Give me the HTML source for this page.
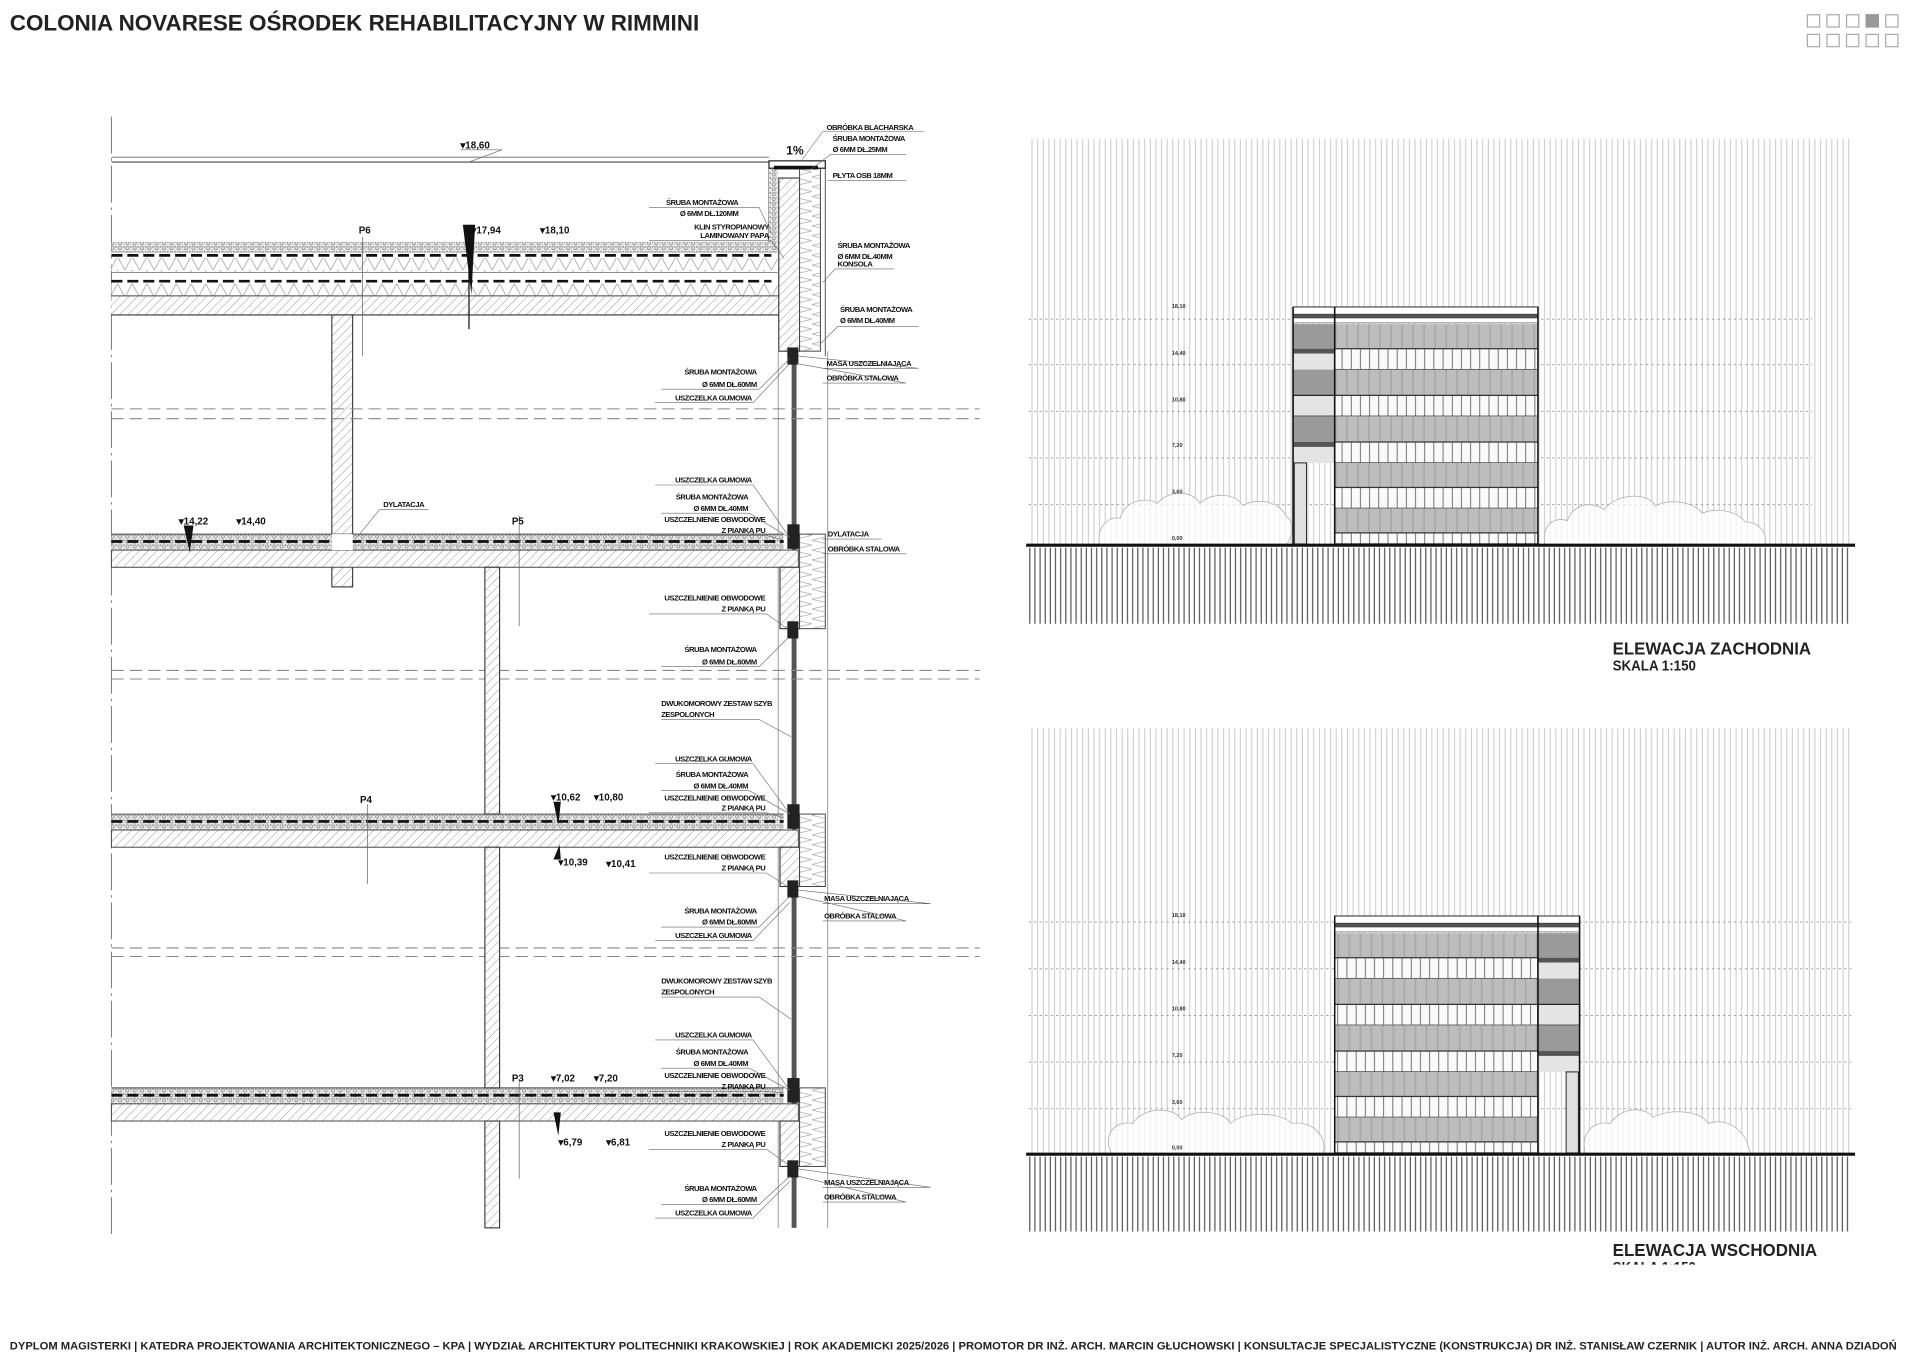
<!DOCTYPE html>
<html><head><meta charset="utf-8"><style>
html,body{margin:0;padding:0;background:#fff;}
svg{display:block;}
text{font-family:"Liberation Sans",sans-serif;}
.t{font-size:6.2px;font-weight:bold;fill:#111;letter-spacing:-0.35px;}
.lv{font-size:8px;font-weight:bold;fill:#111;}
.el{font-size:4.5px;font-weight:bold;fill:#333;}
</style></head><body>
<svg width="1920" height="1358" viewBox="0 0 1568 1106" preserveAspectRatio="none" xmlns="http://www.w3.org/2000/svg">
<defs>
<pattern id="hatch" width="5" height="5" patternUnits="userSpaceOnUse" patternTransform="rotate(45)">
<rect width="5" height="5" fill="#fff"/><line x1="0" y1="0" x2="0" y2="5" stroke="#888" stroke-width="0.7"/></pattern>
<pattern id="zig" width="12" height="11" patternUnits="userSpaceOnUse">
<rect width="12" height="11" fill="#fff"/><polyline points="0,0 6,11 12,0" fill="none" stroke="#999" stroke-width="0.6"/></pattern>
<pattern id="grav" width="6" height="4" patternUnits="userSpaceOnUse">
<rect width="6" height="4" fill="#e6e6e6"/><circle cx="2" cy="2" r="1.3" fill="none" stroke="#777" stroke-width="0.5"/><circle cx="5" cy="1" r="0.8" fill="#999"/></pattern>
<pattern id="ins" width="17" height="8" patternUnits="userSpaceOnUse">
<rect width="17" height="8" fill="#fff"/><polyline points="0,0 17,4 0,8" fill="none" stroke="#aaa" stroke-width="0.6"/></pattern>
<pattern id="sky" width="4.6" height="10" patternUnits="userSpaceOnUse">
<rect width="4.6" height="10" fill="#fff"/><line x1="1" y1="0" x2="1" y2="10" stroke="#c4c4c4" stroke-width="0.75"/></pattern>
<pattern id="gnd" width="4.2" height="10" patternUnits="userSpaceOnUse">
<rect width="4.2" height="10" fill="#fff"/><line x1="1" y1="0" x2="1" y2="10" stroke="#444" stroke-width="0.9"/></pattern>
<pattern id="mul" width="7.5" height="10" patternUnits="userSpaceOnUse">
<rect width="7.5" height="10" fill="#fafafa"/><line x1="1" y1="0" x2="1" y2="10" stroke="#444" stroke-width="0.6"/></pattern>
<pattern id="glz" width="9" height="10" patternUnits="userSpaceOnUse">
<rect width="9" height="10" fill="#bdbdbd"/><line x1="2" y1="0" x2="2" y2="10" stroke="#aaa" stroke-width="1.5"/></pattern>

<g id="floor">
 <rect x="91" y="0" width="549" height="13" fill="url(#grav)"/>
 <line x1="91" y1="6" x2="640" y2="6" stroke="#111" stroke-width="2.2" stroke-dasharray="9,4"/>
 <line x1="91" y1="0" x2="640" y2="0" stroke="#444" stroke-width="0.8"/>
 <rect x="91" y="13" width="561" height="14" fill="url(#hatch)" stroke="#444" stroke-width="0.8"/>
 <rect x="643" y="-8" width="10" height="20" fill="#222"/>
</g>
<g id="bld">
 <rect x="1056" y="250" width="200" height="6" fill="#fff" stroke="#222" stroke-width="0.8"/>
 <rect x="1056" y="256" width="200" height="3" fill="#555"/>
 <rect x="1056" y="259" width="200" height="4" fill="#fff" stroke="#444" stroke-width="0.5"/>
 <rect x="1090" y="264" width="166" height="20" fill="url(#glz)"/>
 <rect x="1090" y="284" width="166" height="17" fill="url(#mul)" stroke="#333" stroke-width="1"/>
 <rect x="1090" y="301" width="166" height="21" fill="url(#glz)"/>
 <rect x="1090" y="322" width="166" height="17" fill="url(#mul)" stroke="#333" stroke-width="1"/>
 <rect x="1090" y="339" width="166" height="21" fill="url(#glz)"/>
 <rect x="1090" y="360" width="166" height="17" fill="url(#mul)" stroke="#333" stroke-width="1"/>
 <rect x="1090" y="377" width="166" height="20" fill="url(#glz)"/>
 <rect x="1090" y="397" width="166" height="17" fill="url(#mul)" stroke="#333" stroke-width="1"/>
 <rect x="1090" y="414" width="166" height="20" fill="url(#glz)"/>
 <rect x="1090" y="434" width="166" height="9" fill="url(#mul)" stroke="#333" stroke-width="1"/>
 <rect x="1056" y="264" width="34" height="20" fill="#9a9a9a"/>
 <rect x="1056" y="284" width="34" height="4" fill="#555"/>
 <rect x="1056" y="288" width="34" height="13" fill="#e4e4e4"/>
 <rect x="1056" y="301" width="34" height="21" fill="#9a9a9a"/>
 <rect x="1056" y="322" width="34" height="17" fill="#e4e4e4" stroke="#222" stroke-width="1"/>
 <rect x="1056" y="339" width="34" height="21" fill="#9a9a9a"/>
 <rect x="1056" y="360" width="34" height="4" fill="#555"/>
 <rect x="1056" y="364" width="34" height="13" fill="#e4e4e4"/>
 <rect x="1057" y="377" width="10" height="66" fill="#e0e0e0" stroke="#222" stroke-width="0.8"/>
 <line x1="1056" y1="250" x2="1056" y2="443" stroke="#111" stroke-width="1.3"/>
 <line x1="1090" y1="250" x2="1090" y2="443" stroke="#111" stroke-width="1.3"/>
 <line x1="1256" y1="250" x2="1256" y2="443" stroke="#111" stroke-width="1.2"/>
</g>
</defs>
<rect width="1568" height="1106" fill="#fff"/>

<text x="8" y="25" font-size="18" font-weight="bold" textLength="563" lengthAdjust="spacingAndGlyphs" fill="#222">COLONIA NOVARESE OŚRODEK REHABILITACYJNY W RIMMINI</text>
<g fill="none" stroke="#aaa" stroke-width="1">
<rect x="1476" y="12" width="10" height="10"/><rect x="1492" y="12" width="10" height="10"/><rect x="1508" y="12" width="10" height="10"/><rect x="1524" y="12" width="10" height="10" fill="#999" stroke="#999"/><rect x="1540" y="12" width="10" height="10"/>
<rect x="1476" y="28" width="10" height="10"/><rect x="1492" y="28" width="10" height="10"/><rect x="1508" y="28" width="10" height="10"/><rect x="1524" y="28" width="10" height="10"/><rect x="1540" y="28" width="10" height="10"/>
</g>

<line x1="91" y1="95" x2="91" y2="1005" stroke="#777" stroke-width="0.8" stroke-dasharray="30,4,2,4"/>
<line x1="91" y1="128" x2="628" y2="128" stroke="#666" stroke-width="0.7"/>
<line x1="91" y1="132" x2="628" y2="132" stroke="#444" stroke-width="0.9"/>
<line x1="628" y1="132" x2="628" y2="197" stroke="#444" stroke-width="0.8"/>
<rect x="628" y="137" width="7" height="60" fill="url(#grav)"/>
<rect x="91" y="197" width="544" height="9" fill="url(#grav)"/>
<line x1="91" y1="208" x2="630" y2="208" stroke="#111" stroke-width="2.2" stroke-dasharray="9,4"/>
<rect x="91" y="210" width="544" height="11" fill="url(#zig)"/>
<line x1="91" y1="222" x2="635" y2="222" stroke="#666" stroke-width="0.6"/>
<line x1="91" y1="229" x2="630" y2="229" stroke="#111" stroke-width="2.2" stroke-dasharray="9,4"/>
<rect x="91" y="231" width="544" height="10" fill="url(#zig)"/>
<line x1="91" y1="241" x2="636" y2="241" stroke="#444" stroke-width="0.8"/>
<rect x="91" y="241.5" width="561" height="15" fill="url(#hatch)"/>
<line x1="91" y1="256.5" x2="636" y2="256.5" stroke="#333" stroke-width="1"/>
<rect x="636" y="145" width="17" height="141" fill="url(#hatch)" stroke="#333" stroke-width="0.9"/>
<rect x="653" y="137" width="17" height="149" fill="url(#ins)" stroke="#444" stroke-width="0.8"/>
<line x1="674" y1="137" x2="674" y2="290" stroke="#555" stroke-width="0.8"/>
<rect x="628" y="131" width="46" height="6" fill="#fff" stroke="#222" stroke-width="1"/>
<rect x="632" y="135" width="36" height="3" fill="#111"/>
<polygon points="378,183 388,183 385,240" fill="#111"/>
<line x1="383" y1="183" x2="383" y2="268" stroke="#111" stroke-width="1"/>
<rect x="271" y="256.5" width="17" height="191" fill="url(#hatch)" stroke="#333" stroke-width="0.9"/>
<rect x="271" y="461" width="17" height="17" fill="url(#hatch)" stroke="#333" stroke-width="0.9"/>
<line x1="296" y1="193" x2="296" y2="290" stroke="#666" stroke-width="0.6"/>
<rect x="646.5" y="286" width="4" height="714" fill="#555"/>
<line x1="635.5" y1="286" x2="635.5" y2="1000" stroke="#777" stroke-width="0.6"/>
<line x1="676" y1="286" x2="676" y2="1000" stroke="#777" stroke-width="0.6"/>
<rect x="643" y="283" width="9" height="14" fill="#222"/>
<g stroke="#888" stroke-width="0.9" stroke-dasharray="10,5">
<line x1="91" y1="333" x2="800" y2="333"/><line x1="91" y1="341" x2="800" y2="341"/>
<line x1="91" y1="546" x2="800" y2="546"/><line x1="91" y1="553" x2="800" y2="553"/>
<line x1="91" y1="772" x2="800" y2="772"/><line x1="91" y1="779" x2="800" y2="779"/>
</g>
<use href="#floor" transform="translate(0,435)"/>
<use href="#floor" transform="translate(0,663)"/>
<use href="#floor" transform="translate(0,886)"/>
<rect x="271" y="435" width="17" height="13" fill="#fff"/>
<rect x="637" y="462" width="16" height="50" fill="url(#hatch)" stroke="#333" stroke-width="0.9"/>
<rect x="653" y="435" width="21" height="77" fill="url(#ins)" stroke="#444" stroke-width="0.8"/>
<rect x="637" y="690" width="16" height="32" fill="url(#hatch)" stroke="#333" stroke-width="0.9"/>
<rect x="653" y="663" width="21" height="59" fill="url(#ins)" stroke="#444" stroke-width="0.8"/>
<rect x="637" y="913" width="16" height="37" fill="url(#hatch)" stroke="#333" stroke-width="0.9"/>
<rect x="653" y="886" width="21" height="64" fill="url(#ins)" stroke="#444" stroke-width="0.8"/>
<g fill="#222"><rect x="643" y="506" width="9" height="14"/><rect x="643" y="717" width="9" height="14"/><rect x="643" y="945" width="9" height="14"/></g>
<rect x="396" y="462" width="12" height="201" fill="url(#hatch)" stroke="#333" stroke-width="0.9"/>
<rect x="396" y="690" width="12" height="196" fill="url(#hatch)" stroke="#333" stroke-width="0.9"/>
<rect x="396" y="913" width="12" height="87" fill="url(#hatch)" stroke="#333" stroke-width="0.9"/>
<line x1="424" y1="420" x2="424" y2="510" stroke="#666" stroke-width="0.6"/>
<line x1="300" y1="655" x2="300" y2="720" stroke="#666" stroke-width="0.6"/>
<line x1="424" y1="880" x2="424" y2="960" stroke="#666" stroke-width="0.6"/>
<g fill="#111">
<polygon points="150,428 158,428 155,450"/><polygon points="452,653 458,653 456,672"/><polygon points="452,906 458,906 456,925"/>
<polygon points="452,700 458,700 457,688"/>
</g>
<g class="lv">
<text x="376" y="121">▾18,60</text><text x="293" y="190">P6</text><text x="385" y="190">▾17,94</text><text x="441" y="190">▾18,10</text>
<text x="642" y="126" font-size="10">1%</text>
<text x="146" y="427">▾14,22</text><text x="193" y="427">▾14,40</text><text x="418" y="427">P5</text>
<text x="294" y="654">P4</text><text x="450" y="652">▾10,62</text><text x="485" y="652">▾10,80</text>
<text x="456" y="705">▾10,39</text><text x="495" y="706">▾10,41</text>
<text x="418" y="881">P3</text><text x="450" y="881">▾7,02</text><text x="485" y="881">▾7,20</text>
<text x="456" y="933">▾6,79</text><text x="495" y="933">▾6,81</text>
</g>
<g class="t">
<text x="675" y="106">OBRÓBKA BLACHARSKA</text><text x="680" y="115">ŚRUBA MONTAŻOWA</text><text x="680" y="124">Ø 6MM DŁ.25MM</text>
<text x="680" y="145">PŁYTA OSB 18MM</text>
<text x="684" y="202">ŚRUBA MONTAŻOWA</text><text x="684" y="211">Ø 6MM DŁ.40MM</text><text x="684" y="217">KONSOLA</text>
<text x="686" y="254">ŚRUBA MONTAŻOWA</text><text x="686" y="263">Ø 6MM DŁ.40MM</text>
<text x="675" y="298">MASA USZCZELNIAJĄCA</text><text x="675" y="310">OBRÓBKA STALOWA</text>
<text x="676" y="437">DYLATACJA</text><text x="676" y="449">OBRÓBKA STALOWA</text>
<text x="673" y="734">MASA USZCZELNIAJĄCA</text><text x="673" y="748">OBRÓBKA STALOWA</text>
<text x="673" y="965">MASA USZCZELNIAJĄCA</text><text x="673" y="977">OBRÓBKA STALOWA</text>
<text x="313" y="413">DYLATACJA</text>
</g>
<g class="t" text-anchor="end">
<text x="603" y="167">ŚRUBA MONTAŻOWA</text><text x="603" y="176">Ø 6MM DŁ.120MM</text>
<text x="628" y="187">KLIN STYROPIANOWY</text><text x="628" y="194">LAMINOWANY PAPĄ</text>
<text x="618" y="305">ŚRUBA MONTAŻOWA</text><text x="618" y="315">Ø 6MM DŁ.60MM</text><text x="614" y="326">USZCZELKA GUMOWA</text>
<text x="614" y="393">USZCZELKA GUMOWA</text><text x="611" y="407">ŚRUBA MONTAŻOWA</text><text x="611" y="416">Ø 6MM DŁ.40MM</text><text x="625" y="425">USZCZELNIENIE OBWODOWE</text><text x="625" y="434">Z PIANKĄ PU</text>
<text x="625" y="489">USZCZELNIENIE OBWODOWE</text><text x="625" y="498">Z PIANKĄ PU</text>
<text x="618" y="531">ŚRUBA MONTAŻOWA</text><text x="618" y="541">Ø 6MM DŁ.60MM</text>
<text x="614" y="620">USZCZELKA GUMOWA</text><text x="611" y="633">ŚRUBA MONTAŻOWA</text><text x="611" y="642">Ø 6MM DŁ.40MM</text><text x="625" y="652">USZCZELNIENIE OBWODOWE</text><text x="625" y="660">Z PIANKĄ PU</text>
<text x="625" y="700">USZCZELNIENIE OBWODOWE</text><text x="625" y="709">Z PIANKĄ PU</text>
<text x="618" y="744">ŚRUBA MONTAŻOWA</text><text x="618" y="753">Ø 6MM DŁ.60MM</text><text x="614" y="764">USZCZELKA GUMOWA</text>
<text x="614" y="845">USZCZELKA GUMOWA</text><text x="611" y="859">ŚRUBA MONTAŻOWA</text><text x="611" y="868">Ø 6MM DŁ.40MM</text><text x="625" y="878">USZCZELNIENIE OBWODOWE</text><text x="625" y="887">Z PIANKĄ PU</text>
<text x="625" y="925">USZCZELNIENIE OBWODOWE</text><text x="625" y="934">Z PIANKĄ PU</text>
<text x="618" y="970">ŚRUBA MONTAŻOWA</text><text x="618" y="979">Ø 6MM DŁ.60MM</text><text x="614" y="990">USZCZELKA GUMOWA</text>
</g>
<g class="t"><text x="540" y="575">DWUKOMOROWY ZESTAW SZYB</text><text x="540" y="584">ZESPOLONYCH</text>
<text x="540" y="801">DWUKOMOROWY ZESTAW SZYB</text><text x="540" y="810">ZESPOLONYCH</text></g>
<g stroke="#666" stroke-width="0.5" fill="none">
<path d="M672 107 H755 M672 107 L655 130"/><path d="M678 126 H740 M678 126 L662 138"/><path d="M676 147 H740"/>
<path d="M530 169 H620 L630 190"/><path d="M530 196 H630 L640 210"/>
<path d="M682 219 H730 M682 219 L672 230"/><path d="M684 266 H750 M684 266 L670 280"/>
<path d="M672 300 H750 L652 290"/><path d="M672 312 H740 L650 296"/>
<path d="M540 317 H620 L645 292"/><path d="M535 328 H615 L645 296"/>
<path d="M535 395 H615 L645 438"/><path d="M540 418 H612 L645 438"/><path d="M530 436 H626 L640 440"/>
<path d="M530 500 H626 L643 512"/><path d="M540 543 H620 L643 520"/>
<path d="M540 586 H620 L646 600"/>
<path d="M535 622 H615 L645 663"/><path d="M540 644 H612 L645 663"/><path d="M530 662 H626 L640 666"/>
<path d="M530 711 H626 L643 722"/><path d="M540 755 H620 L645 730"/><path d="M535 766 H615 L645 735"/>
<path d="M540 812 H620 L646 830"/>
<path d="M535 847 H615 L645 888"/><path d="M540 870 H612 L645 888"/><path d="M530 889 H626 L640 890"/>
<path d="M530 936 H626 L643 948"/><path d="M540 981 H620 L645 958"/><path d="M535 992 H615 L645 962"/>
<path d="M672 736 H760 L652 725"/><path d="M672 750 H740 L652 730"/>
<path d="M672 967 H760 L652 952"/><path d="M672 979 H740 L652 958"/>
<path d="M672 439 H720"/><path d="M672 451 H740"/>
<path d="M310 415 H350 M310 415 L292 437"/>
<path d="M376 122 H410 L383 132"/>
</g>

<rect x="840" y="113" width="672" height="331" fill="url(#sky)"/>
<rect x="840" y="446" width="672" height="62" fill="url(#gnd)"/>
<g stroke="#999" stroke-width="0.7" stroke-dasharray="2,2.5">
<line x1="840" y1="260" x2="1480" y2="260"/><line x1="840" y1="297" x2="1480" y2="297"/><line x1="840" y1="335" x2="1480" y2="335"/><line x1="840" y1="373" x2="1480" y2="373"/><line x1="840" y1="411" x2="1480" y2="411"/>
</g>
<g fill="#fff" fill-opacity="0.7" stroke="#aaa" stroke-width="0.6">
<path d="M898 444 C895 430 905 420 915 422 C918 408 935 404 945 410 C955 398 975 400 980 410 C990 400 1010 402 1015 412 C1025 405 1045 408 1050 420 C1058 425 1055 440 1050 444 Z"/>
<path d="M1262 444 C1258 430 1268 420 1280 424 C1285 410 1300 408 1310 415 C1320 402 1345 400 1352 412 C1365 405 1385 410 1390 418 C1405 412 1420 418 1425 425 C1440 425 1445 440 1440 444 Z"/>
</g>
<use href="#bld"/>
<line x1="838" y1="444" x2="1515" y2="444" stroke="#111" stroke-width="2.5"/>
<g class="el"><text x="957" y="251">18,10</text><text x="957" y="289">14,40</text><text x="957" y="327">10,80</text><text x="957" y="364">7,20</text><text x="957" y="402">3,60</text><text x="957" y="440">0,00</text></g>
<text x="1317" y="533" font-size="14" font-weight="bold" fill="#222" textLength="162" lengthAdjust="spacingAndGlyphs">ELEWACJA ZACHODNIA</text>
<text x="1317" y="546" font-size="12" font-weight="bold" fill="#222" textLength="68" lengthAdjust="spacingAndGlyphs">SKALA 1:150</text>

<rect x="840" y="593" width="672" height="347" fill="url(#sky)"/>
<rect x="840" y="942" width="672" height="61" fill="url(#gnd)"/>
<g stroke="#999" stroke-width="0.7" stroke-dasharray="2,2.5">
<line x1="840" y1="751" x2="1512" y2="751"/><line x1="840" y1="789" x2="1512" y2="789"/><line x1="840" y1="827" x2="1512" y2="827"/><line x1="840" y1="865" x2="1512" y2="865"/><line x1="840" y1="903" x2="1512" y2="903"/>
</g>
<g fill="#fff" fill-opacity="0.7" stroke="#aaa" stroke-width="0.6">
<path d="M908 940 C900 925 910 912 925 915 C935 900 960 902 965 912 C975 902 1000 905 1005 915 C1015 905 1045 905 1055 915 C1075 912 1085 930 1080 940 Z"/>
<path d="M1295 940 C1290 925 1300 912 1315 915 C1325 900 1345 902 1350 910 C1365 902 1390 905 1395 915 C1410 910 1425 920 1428 935 L1430 940 Z"/>
</g>
<use href="#bld" transform="translate(2346,496) scale(-1,1)"/>
<line x1="838" y1="940" x2="1515" y2="940" stroke="#111" stroke-width="2.5"/>
<g class="el"><text x="957" y="747">18,10</text><text x="957" y="785">14,40</text><text x="957" y="823">10,80</text><text x="957" y="861">7,20</text><text x="957" y="899">3,60</text><text x="957" y="936">0,00</text></g>
<text x="1317" y="1023" font-size="14" font-weight="bold" fill="#222" textLength="167" lengthAdjust="spacingAndGlyphs">ELEWACJA WSCHODNIA</text>
<text x="1317" y="1036" font-size="12" font-weight="bold" fill="#222" textLength="68" lengthAdjust="spacingAndGlyphs">SKALA 1:150</text>
<rect x="1300" y="1030" width="100" height="10" fill="#fff"/>

<text x="8" y="1099" font-size="9" font-weight="bold" fill="#222" textLength="1541" lengthAdjust="spacingAndGlyphs">DYPLOM MAGISTERKI | KATEDRA PROJEKTOWANIA ARCHITEKTONICZNEGO – KPA | WYDZIAŁ ARCHITEKTURY POLITECHNIKI KRAKOWSKIEJ | ROK AKADEMICKI 2025/2026 | PROMOTOR DR INŻ. ARCH. MARCIN GŁUCHOWSKI | KONSULTACJE SPECJALISTYCZNE (KONSTRUKCJA) DR INŻ. STANISŁAW CZERNIK | AUTOR INŻ. ARCH. ANNA DZIADOŃ</text>
</svg>
</body></html>
